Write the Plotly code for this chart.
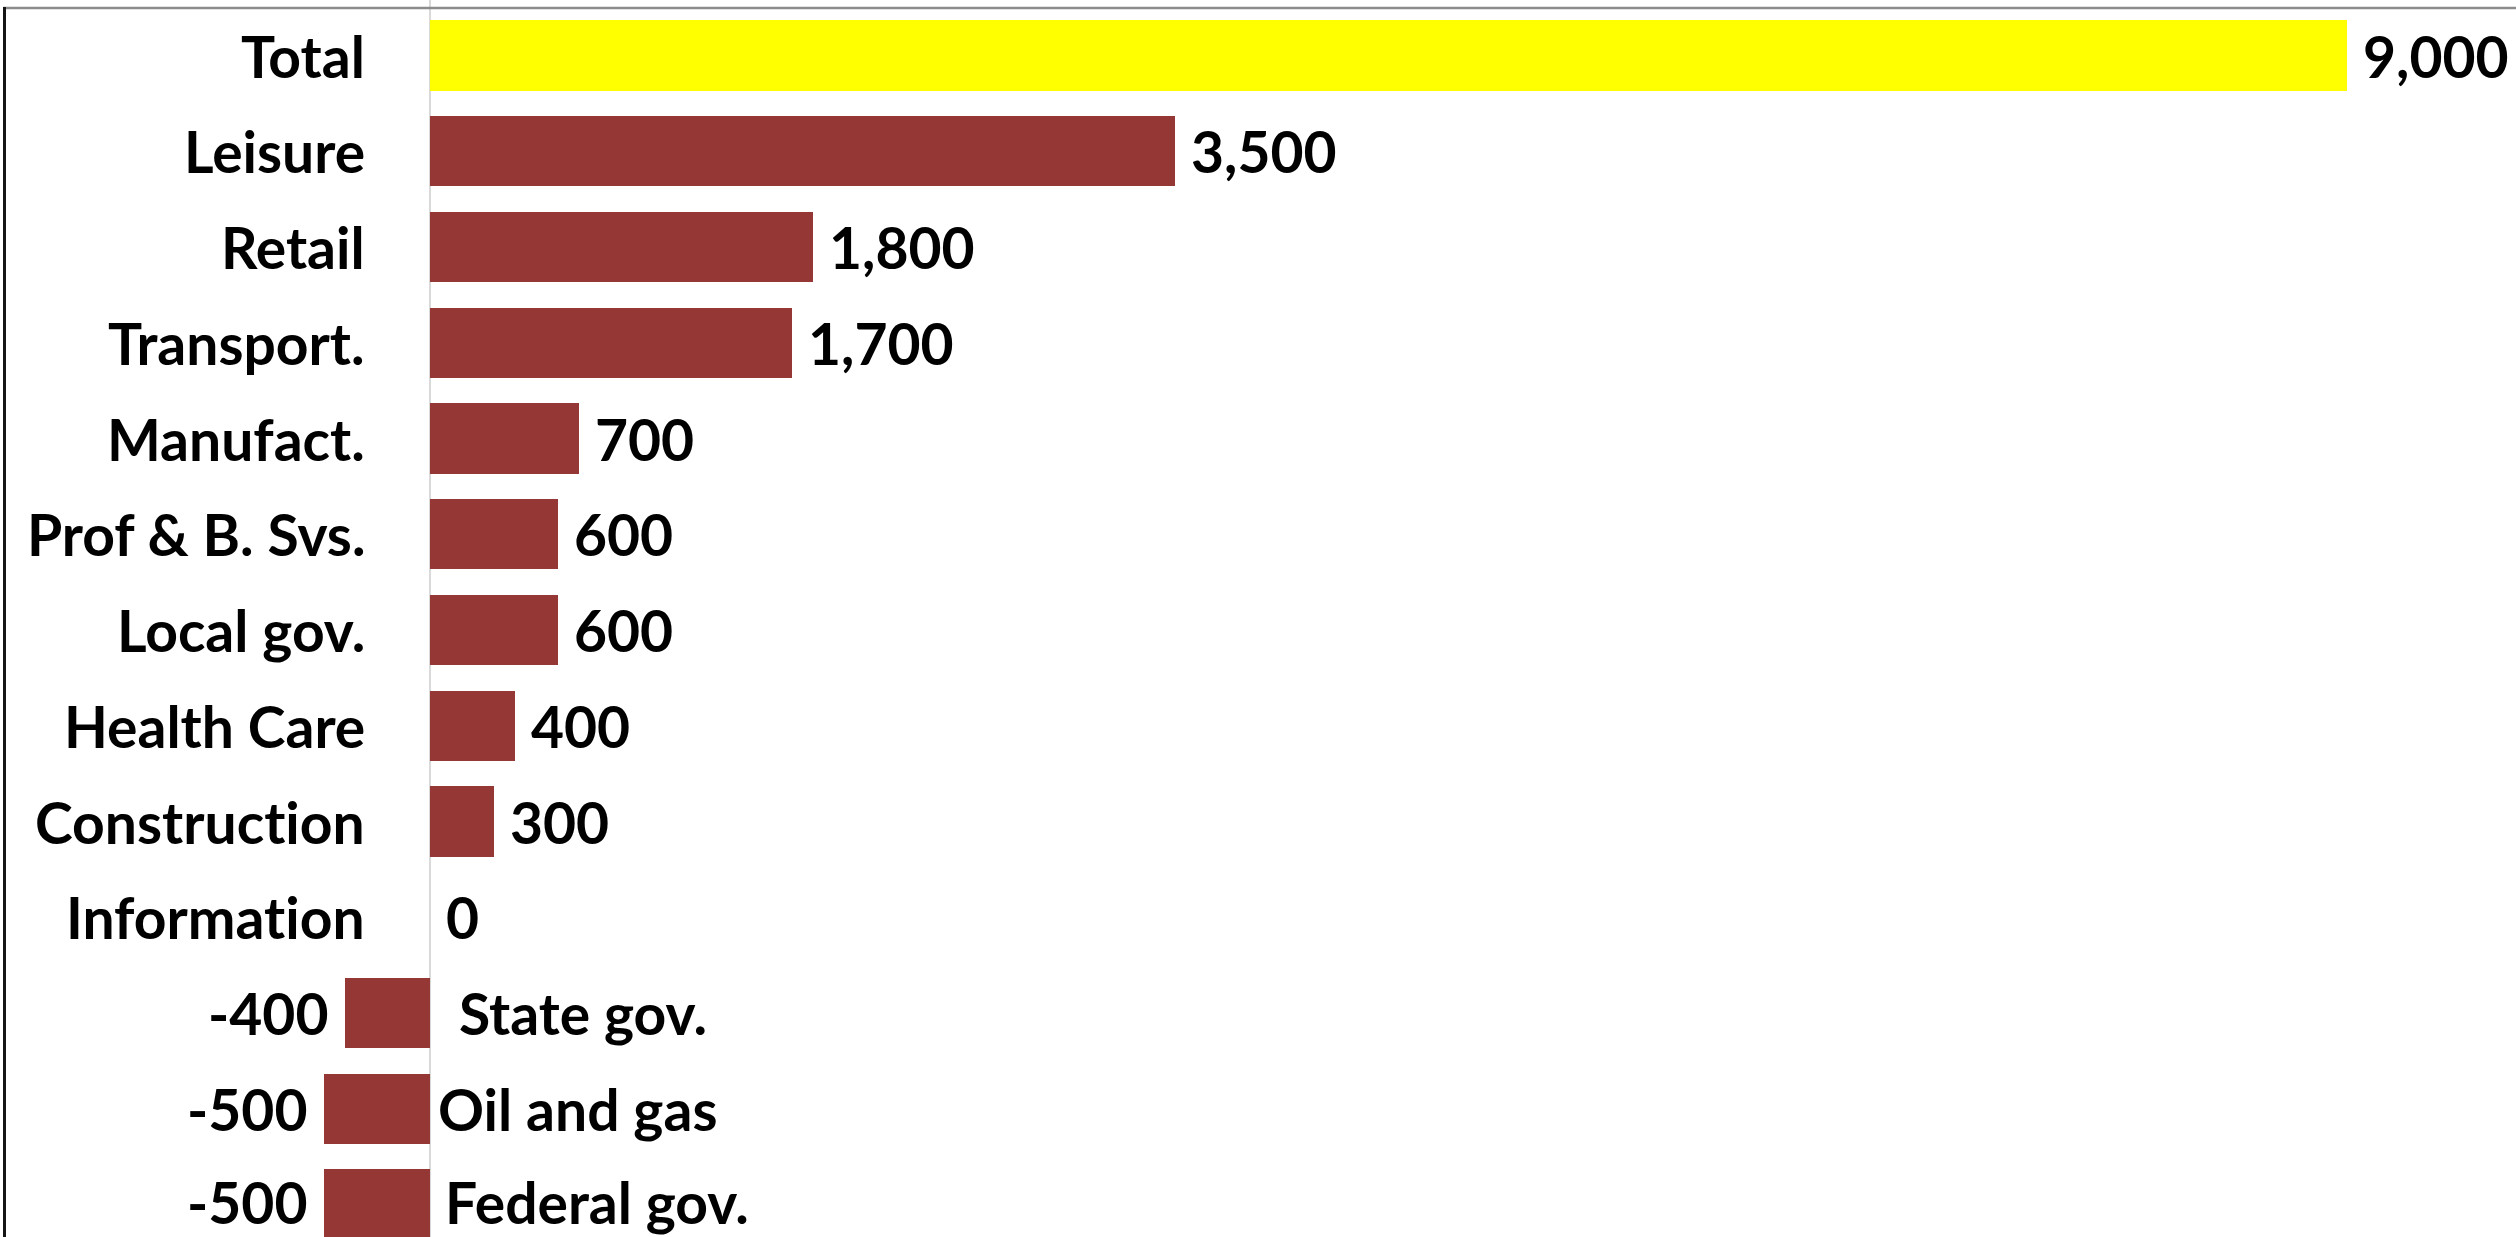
import plotly.graph_objects as go

# ---- data ----
categories = ["Total", "Leisure", "Retail", "Transport.", "Manufact.", "Prof & B. Svs.",
              "Local gov.", "Health Care", "Construction", "Information",
              "State gov.", "Oil and gas", "Federal gov."]
values = [9000, 3500, 1800, 1700, 700, 600, 600, 400, 300, 0, -400, -500, -500]
value_labels = ["9,000", "3,500", "1,800", "1,700", "700", "600", "600", "400", "300", "0",
                "-400", "-500", "-500"]

# ---- style ----
W, H = 2516, 1237
zero_px = 430.0
scale = (2346.5 - zero_px) / 9000.0
x_range = [-zero_px / scale, (W - zero_px) / scale]
pitch = 95.75
first_center = 55.5
y_top = -first_center / pitch
y_bot = y_top + H / pitch

bar_red = "#953735"
colors = ["#FFFF00" if c == "Total" else bar_red for c in categories]
FONT = dict(family="Lato, 'Open Sans', sans-serif", size=57, color="#000000", weight="bold")
neg_name_shift = {"State gov.": 27, "Oil and gas": 6, "Federal gov.": 13}


def no_lig(s):
    # avoid the font's "ti" ligature so the text looks like the reference
    return s.replace("ti", "t\u200ci")


idx = list(range(len(categories)))

fig = go.Figure()
fig.add_trace(go.Bar(
    y=idx, x=values, orientation="h",
    marker=dict(color=colors, line=dict(width=0)),
    width=0.735, hoverinfo="skip",
))

annotations = []
last = len(categories) - 1
for i, (cat, v, lab) in enumerate(zip(categories, values, value_labels)):
    ys = 3 if i == last else 0
    if v >= 0:
        annotations.append(dict(x=0, y=i, text=no_lig(cat), xanchor="right", yanchor="middle",
                                xshift=-63, yshift=ys, showarrow=False, font=FONT))
        annotations.append(dict(x=v, y=i, text=lab, xanchor="left", yanchor="middle",
                                xshift=14, yshift=ys, showarrow=False, font=FONT))
    else:
        annotations.append(dict(x=0, y=i, text=no_lig(cat), xanchor="left", yanchor="middle",
                                xshift=neg_name_shift.get(cat, 10), yshift=ys,
                                showarrow=False, font=FONT))
        annotations.append(dict(x=v, y=i, text=lab, xanchor="right", yanchor="middle",
                                xshift=-15, yshift=ys, showarrow=False, font=FONT))

shapes = [
    # top frame line
    dict(type="line", xref="paper", yref="paper", x0=3 / W, x1=1, y0=1 - 8 / H, y1=1 - 8 / H,
         line=dict(color="#8c8c8c", width=2.5)),
    # left frame line
    dict(type="line", xref="paper", yref="paper", x0=4.5 / W, x1=4.5 / W, y0=0, y1=1 - 7 / H,
         line=dict(color="#151515", width=3)),
]

fig.update_layout(
    width=W, height=H,
    margin=dict(l=0, r=0, t=0, b=0),
    paper_bgcolor="white", plot_bgcolor="white",
    showlegend=False,
    bargap=0,
    xaxis=dict(range=x_range, showgrid=False, showticklabels=False, ticks="",
               zeroline=True, zerolinecolor="#d9d9d9", zerolinewidth=1.5, fixedrange=True),
    yaxis=dict(range=[y_bot, y_top], showgrid=False, showticklabels=False, ticks="",
               zeroline=False, fixedrange=True),
    annotations=annotations,
    shapes=shapes,
)

fig.write_html("out.html", config=dict(displayModeBar=False))
